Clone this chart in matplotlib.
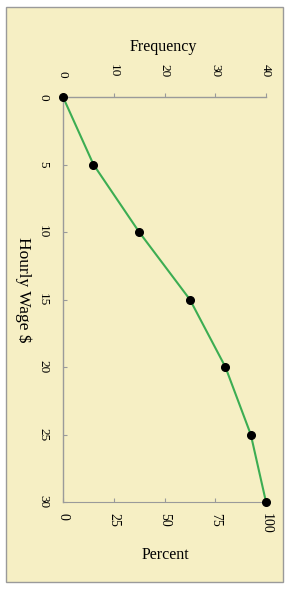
import matplotlib
matplotlib.use("Agg")
import matplotlib.pyplot as plt
from matplotlib.patches import Rectangle

wage = [0, 5, 10, 15, 20, 25, 30]
cum_freq = [0, 6, 15, 25, 32, 37, 40]
freq_ticks = [0, 10, 20, 30, 40]
pct_ticks = [0, 25, 50, 75, 100]
wage_ticks = [0, 5, 10, 15, 20, 25, 30]

plt.rcParams['font.family'] = ['Liberation Serif', 'DejaVu Serif']

W, H = 293, 589
fig = plt.figure(figsize=(W / 100, H / 100), dpi=100)
fig.patch.set_facecolor('white')
bg = '#F6EFC4'
fig.patches.append(Rectangle((6 / W, 1 - 582 / H), 277 / W, 575 / H,
                             transform=fig.transFigure, facecolor=bg,
                             edgecolor='#9a9a9a', linewidth=1.0, zorder=-5))

ax = fig.add_axes([63 / W, 1 - 502 / H, 203 / W, 405 / H])
ax.set_zorder(2)
ax.set_facecolor('none')
ax.plot(cum_freq, wage, color='#3cad52', linewidth=1.5, zorder=2, clip_on=False)
ax.plot(cum_freq, wage, 'o', color='black', markersize=5.5, zorder=3, clip_on=False)
ax.set_xlim(0, 40)
ax.set_ylim(30, 0)

spine_c = '#9a9a9a'
for s in ['right', 'bottom']:
    ax.spines[s].set_visible(False)
for s in ['left', 'top']:
    ax.spines[s].set_color(spine_c)
    ax.spines[s].set_linewidth(1.0)

ax.xaxis.tick_top()
ax.set_xticks(freq_ticks)
ax.set_xticklabels([str(t) for t in freq_ticks], rotation=-90)
ax.tick_params(axis='x', direction='out', length=3, color=spine_c, labelsize=9.5, pad=11)
ax.set_yticks(wage_ticks)
ax.set_yticklabels([str(t) for t in wage_ticks], rotation=-90, va='center')
ax.tick_params(axis='y', direction='in', length=3, color=spine_c, labelsize=9.5, pad=10)

sec = ax.secondary_xaxis('bottom', functions=(lambda f: f * 2.5, lambda p: p / 2.5))
sec.set_xticks(pct_ticks)
sec.set_xticklabels([str(t) for t in pct_ticks], rotation=-90, va='top')
sec.tick_params(axis='x', direction='in', length=3, color=spine_c, labelsize=10, pad=8)
sec.spines['bottom'].set_color(spine_c)

fig.text(163 / W, 1 - 47 / H, 'Frequency', ha='center', va='center', fontsize=11.5)
fig.text(165 / W, 1 - 555 / H, 'Percent', ha='center', va='center', fontsize=11.5)
fig.text(23 / W, 1 - 290 / H, 'Hourly Wage $', ha='center', va='center',
         fontsize=12.5, rotation=-90)

fig.savefig('out.png', dpi=100)
